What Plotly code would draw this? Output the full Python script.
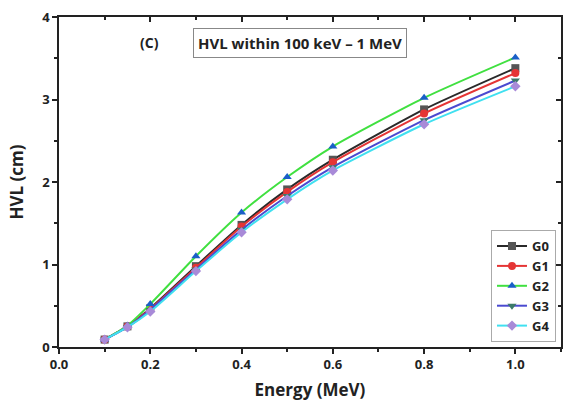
import plotly.graph_objects as go

energy = [0.1, 0.15, 0.2, 0.3, 0.4, 0.5, 0.6, 0.8, 1.0]
g0 = [0.09, 0.25, 0.47, 0.98, 1.48, 1.91, 2.27, 2.88, 3.38]
g1 = [0.09, 0.25, 0.46, 0.96, 1.46, 1.88, 2.24, 2.83, 3.32]
g2 = [0.09, 0.26, 0.52, 1.10, 1.63, 2.06, 2.43, 3.02, 3.51]
g3 = [0.09, 0.24, 0.45, 0.94, 1.42, 1.83, 2.18, 2.75, 3.23]
g4 = [0.09, 0.24, 0.43, 0.92, 1.39, 1.79, 2.14, 2.70, 3.16]
names = ["G0", "G1", "G2", "G3", "G4"]
series = [g0, g1, g2, g3, g4]
line_colors = ["#2a2a2a", "#e53535", "#40e040", "#4a4ad0", "#40e0f0"]
marker_colors = ["#555555", "#e53535", "#1a5fc8", "#3c7a6a", "#a88ad8"]
symbols = ["square", "circle", "triangle-up", "triangle-down", "diamond"]

fig = go.Figure()
for n, s, lc, mc, sym in zip(names, series, line_colors, marker_colors, symbols):
    fig.add_trace(go.Scatter(
        x=energy, y=s, name="<b>" + n + "</b>", mode="lines+markers",
        line=dict(color=lc, width=2, shape="spline", smoothing=0.6),
        marker=dict(color=mc, symbol=sym, size=8),
    ))
# invisible trace to keep the mirrored (top/right) axes drawn
fig.add_trace(go.Scatter(x=[None], y=[None], xaxis="x2", yaxis="y2", showlegend=False, hoverinfo="skip"))

font = "Open Sans, DejaVu Sans, sans-serif"
tfont = dict(family=font, size=13, color="#222", weight="bold")
common = dict(showline=True, linecolor="#222", linewidth=1.5, showgrid=False, zeroline=False,
              tickwidth=1.5, tickcolor="#222", automargin=False)
fig.update_layout(
    xaxis=dict(range=[0, 1.1], dtick=0.2, tickformat=".1f", ticks="outside", ticklen=5,
               minor=dict(dtick=0.1, ticks="outside", ticklen=3, tickcolor="#222"),
               tickfont=tfont,
               title=dict(text="<b>Energy (MeV)</b>", font=dict(family=font, size=17, color="#222"), standoff=12),
               **common),
    yaxis=dict(range=[0, 4], dtick=1, ticks="outside", ticklen=5,
               minor=dict(dtick=0.5, ticks="outside", ticklen=3, tickcolor="#222"),
               tickfont=tfont,
               title=dict(text="<b>HVL (cm)</b>", font=dict(family=font, size=17, color="#222"), standoff=14),
               **common),
    xaxis2=dict(range=[0, 1.1], dtick=0.2, overlaying="x", side="top", anchor="y2", ticks="inside", ticklen=5,
                minor=dict(dtick=0.1, ticks="inside", ticklen=3, tickcolor="#222"),
                showticklabels=False, **common),
    yaxis2=dict(range=[0, 4], dtick=1, overlaying="y", side="right", anchor="x2", ticks="inside", ticklen=5,
                minor=dict(dtick=0.5, ticks="inside", ticklen=3, tickcolor="#222"),
                showticklabels=False, **common),
    width=563, height=401,
    margin=dict(l=59, r=2, t=17, b=54),
    plot_bgcolor="white", paper_bgcolor="white",
    font=dict(family=font, color="#222"),
    legend=dict(x=0.99, y=0.015, xanchor="right", yanchor="bottom",
                bordercolor="#aaa", borderwidth=1, bgcolor="rgba(255,255,255,0.9)",
                font=dict(family=font, size=13, color="#222"),
                tracegroupgap=0, itemwidth=30),
    showlegend=True,
)
fig.add_annotation(x=0.199, y=3.69, xref="x", yref="y", text="<b>(C)</b>", showarrow=False,
                   font=dict(family=font, size=14, color="#222"))
fig.add_annotation(x=0.527, y=3.69, xref="x", yref="y", text="<b>HVL within 100 keV – 1 MeV</b>",
                   showarrow=False, bordercolor="#888", borderwidth=1, borderpad=4,
                   font=dict(family=font, size=15, color="#222"))

fig.write_html("out.html")
